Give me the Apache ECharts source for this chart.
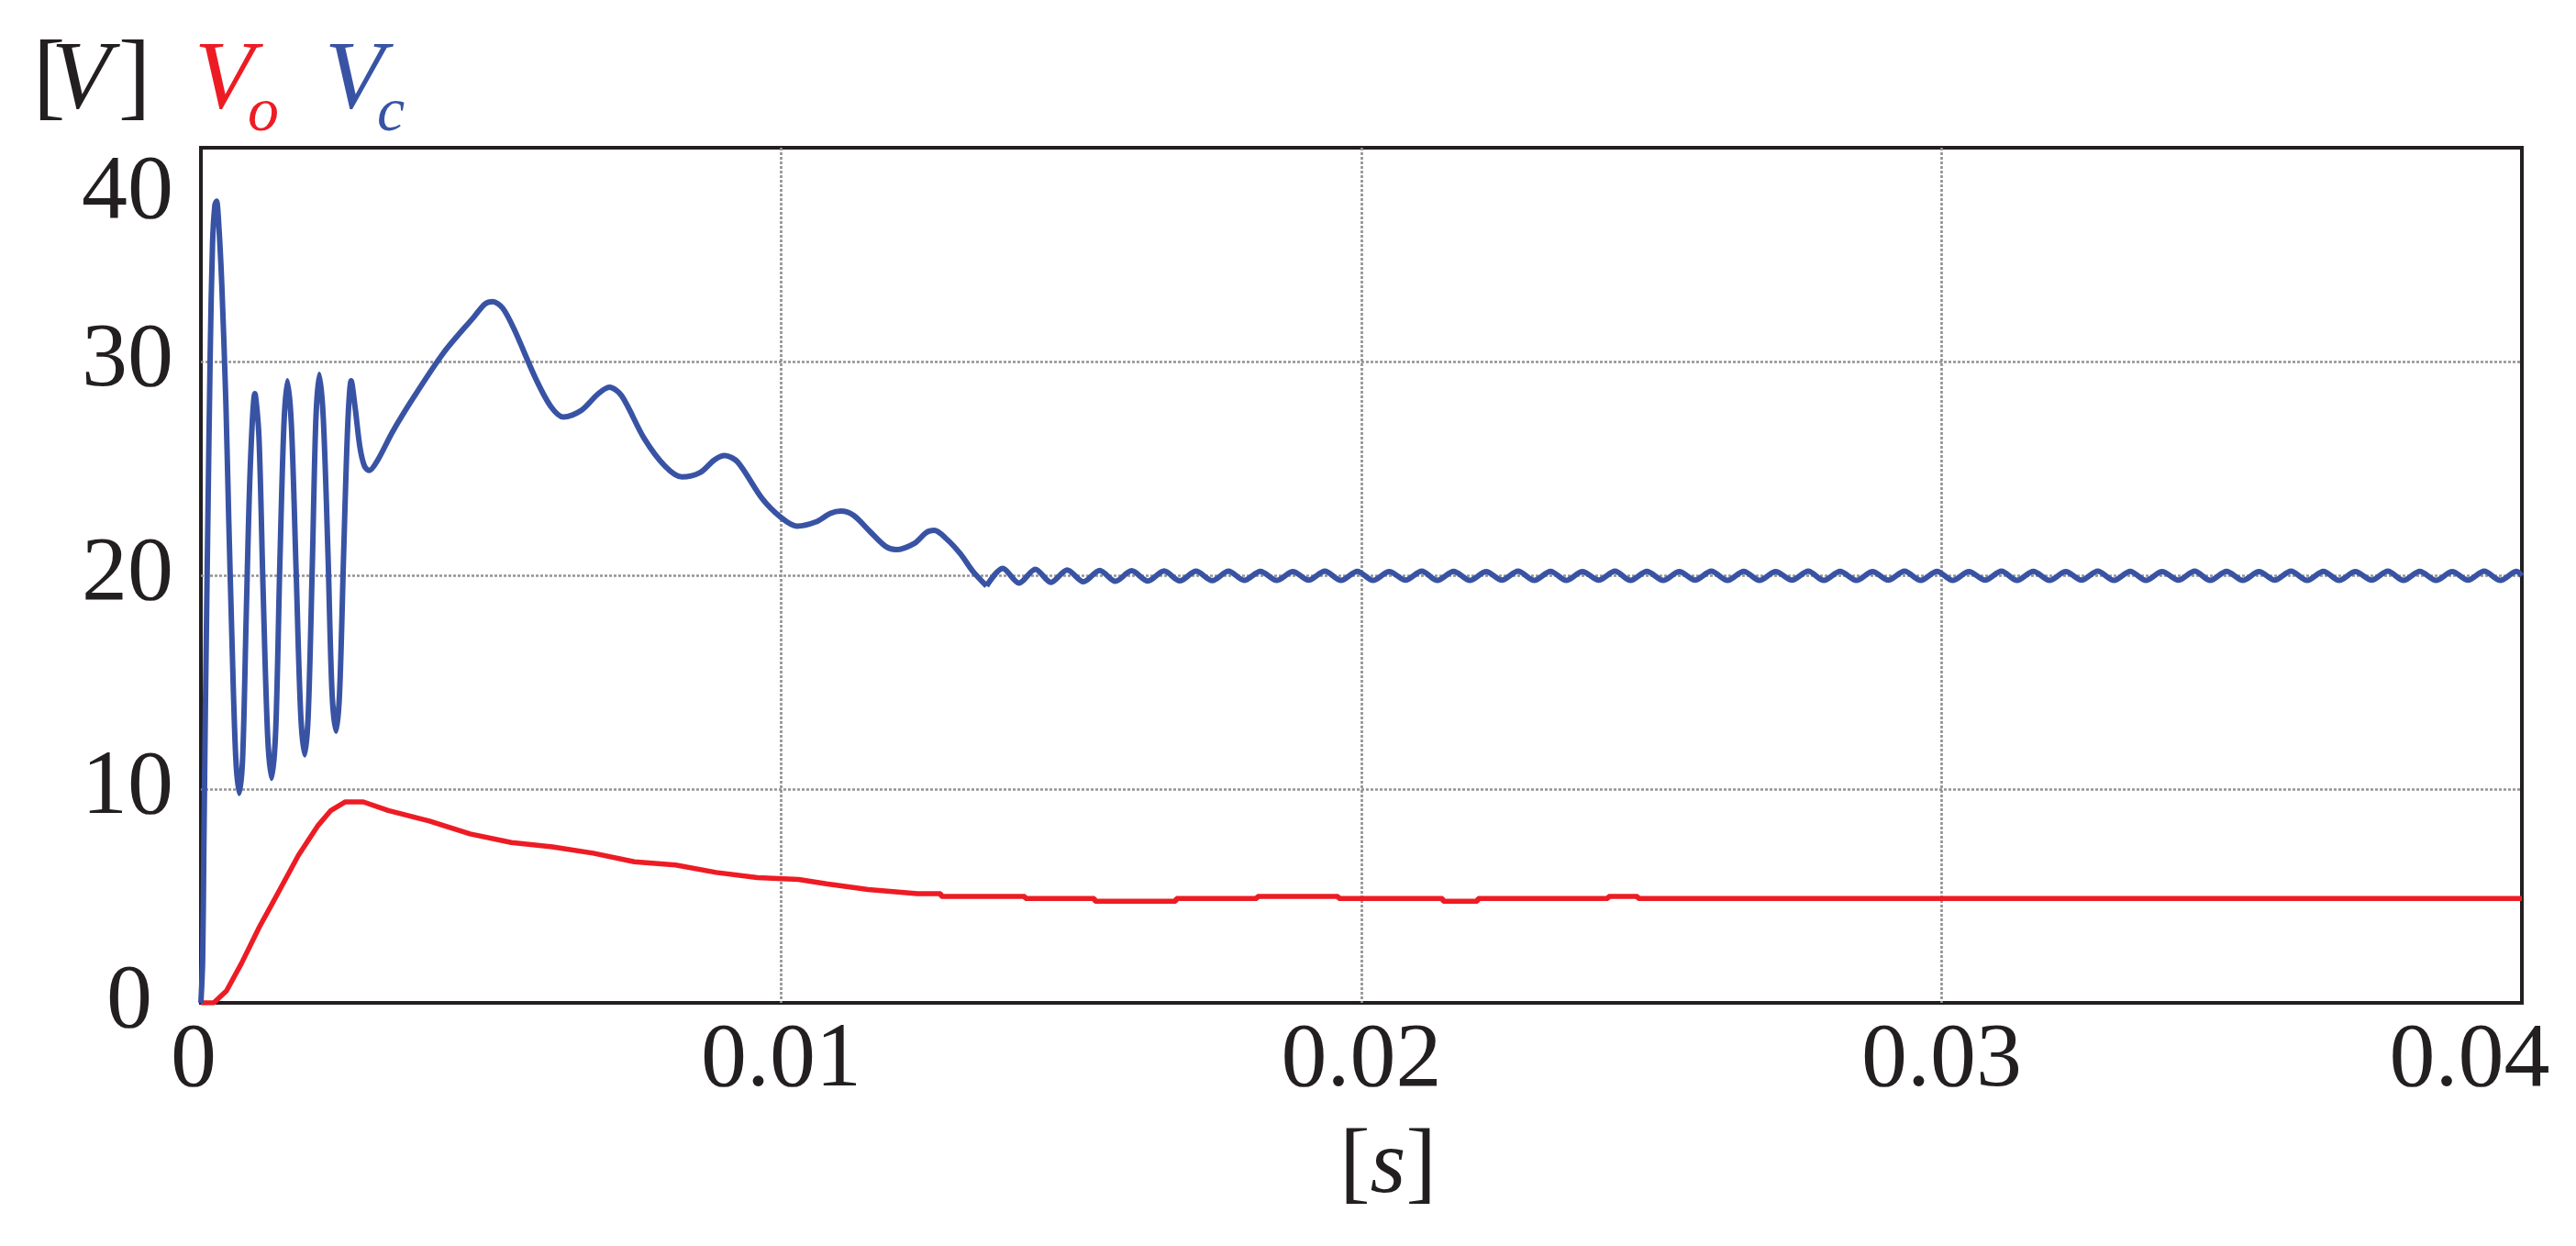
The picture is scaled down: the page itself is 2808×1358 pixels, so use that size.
<!DOCTYPE html>
<html>
<head>
<meta charset="utf-8">
<title>Vo / Vc</title>
<script src="https://cdn.jsdelivr.net/npm/echarts@6.0.0/dist/echarts.min.js"></script>
<style>
  html, body { margin: 0; padding: 0; background: #fff; }
  #chart { width: 2808px; height: 1358px; }
</style>
</head>
<body>
<div id="chart"></div>
<script>
// time in ms, voltage in V
const vcTransientT = [0, 0.03, 0.05, 0.08, 0.12, 0.16, 0.20, 0.24, 0.27, 0.31, 0.36, 0.43, 0.48, 0.54, 0.60, 0.66,
  0.72, 0.78, 0.85, 0.93, 1.00, 1.07, 1.15, 1.22, 1.29, 1.36, 1.43, 1.49, 1.56, 1.64, 1.72, 1.79, 1.85, 1.92, 1.98,
  2.04, 2.11, 2.19, 2.26, 2.33, 2.39, 2.46, 2.53, 2.59, 2.66, 2.74, 2.82, 2.90,
  3.05, 3.30, 3.66, 4.18, 4.71, 4.90, 5.03, 5.20, 5.40, 5.77, 6.03, 6.25, 6.55, 6.85, 7.04, 7.25, 7.64, 8.00, 8.29,
  8.60, 8.85, 9.03, 9.25, 9.67, 10.00, 10.27, 10.60, 10.85, 11.03, 11.25, 11.53, 11.80, 11.98, 12.30, 12.50, 12.64,
  12.85, 13.09, 13.30, 13.54];
const vcTransientV = [0, 2, 7, 14.4, 22.6, 30.3, 35.5, 37.3, 37.5, 36.3, 33.6, 28.1, 22.6, 16.5, 11.5, 9.8,
  11.5, 18.0, 25.0, 28.5, 26.5, 19.5, 12.5, 10.5, 12.8, 20.5, 27.0, 29.1, 27.0, 20.3, 13.5, 11.6, 13.5, 20.5, 27.2,
  29.4, 27.3, 21.0, 14.5, 12.7, 14.5, 21.0, 27.0, 29.1, 27.8, 26.0, 25.1, 24.9,
  25.4, 26.7, 28.3, 30.4, 32.1, 32.7, 32.8, 32.5, 31.5, 29.2, 27.9, 27.4, 27.7, 28.5, 28.8, 28.4, 26.4, 25.1, 24.6,
  24.8, 25.4, 25.6, 25.3, 23.6, 22.7, 22.3, 22.5, 22.9, 23.0, 22.8, 22.05, 21.35, 21.2, 21.5, 22.0, 22.1,
  21.7, 21.0, 20.2, 19.5];

// steady-state ripple: alternating peaks and troughs
const vcRippleT = [13.82, 14.10, 14.38, 14.65, 14.93, 15.21, 15.49, 15.76, 16.04, 16.32, 16.60, 16.87, 17.15, 17.43,
  17.71, 17.98, 18.26, 18.54, 18.82, 19.09, 19.37, 19.65, 19.93, 20.20, 20.48, 20.76, 21.04, 21.31, 21.59, 21.87,
  22.15, 22.42, 22.70, 22.98, 23.26, 23.53, 23.81, 24.09, 24.37, 24.64, 24.92, 25.20, 25.48, 25.75, 26.03, 26.31,
  26.59, 26.86, 27.14, 27.42, 27.70, 27.97, 28.25, 28.53, 28.81, 29.08, 29.36, 29.64, 29.92, 30.19, 30.47, 30.75,
  31.03, 31.30, 31.58, 31.86, 32.14, 32.41, 32.69, 32.97, 33.25, 33.52, 33.80, 34.08, 34.36, 34.63, 34.91, 35.19,
  35.47, 35.74, 36.02, 36.30, 36.58, 36.85, 37.13, 37.41, 37.69, 37.96, 38.24, 38.52, 38.80, 39.07, 39.35, 39.63,
  39.91, 40.00];
const vcRippleV = [20.32, 19.64, 20.28, 19.67, 20.25, 19.70, 20.23, 19.72, 20.21, 19.73, 20.20, 19.74, 20.19, 19.75,
  20.19, 19.76, 20.18, 19.76, 20.17, 19.77, 20.19, 19.76, 20.18, 19.76, 20.17, 19.77, 20.19, 19.76, 20.18, 19.76,
  20.17, 19.77, 20.19, 19.76, 20.18, 19.76, 20.17, 19.77, 20.19, 19.76, 20.18, 19.76, 20.17, 19.77, 20.19, 19.76,
  20.18, 19.76, 20.17, 19.77, 20.19, 19.76, 20.18, 19.76, 20.17, 19.77, 20.19, 19.76, 20.18, 19.76, 20.17, 19.77,
  20.19, 19.76, 20.18, 19.76, 20.17, 19.77, 20.19, 19.76, 20.18, 19.76, 20.17, 19.77, 20.19, 19.76, 20.18, 19.76,
  20.17, 19.77, 20.19, 19.76, 20.18, 19.76, 20.17, 19.77, 20.19, 19.76, 20.18, 19.76, 20.17, 19.77, 20.19, 19.76,
  20.18, 19.97];

const voT = [0, 0.22, 0.44, 0.70, 1.01, 1.22, 1.44, 1.68, 2.02, 2.24, 2.49, 2.80, 3.23, 3.94, 4.64, 5.35, 6.06, 6.76,
  7.47, 8.18, 8.88, 9.59, 10.30, 10.78, 11.50, 12.35, 12.75, 12.76, 14.20, 14.21, 15.40, 15.41, 16.80, 16.81, 18.20,
  18.21, 19.60, 19.61, 21.40, 21.41, 22.00, 22.01, 24.25, 24.26, 24.76, 24.77, 40.00];
const voV = [0, 0, 0.56, 1.85, 3.56, 4.6, 5.7, 6.9, 8.3, 9.0, 9.4, 9.4, 9.0, 8.5, 7.9, 7.5, 7.3, 7.0,
  6.6, 6.45, 6.1, 5.86, 5.77, 5.57, 5.3, 5.11, 5.11, 4.98, 4.98, 4.88, 4.88, 4.75, 4.75, 4.88, 4.88,
  4.98, 4.98, 4.88, 4.88, 4.75, 4.75, 4.88, 4.88, 4.98, 4.98, 4.88, 4.88];

const xTicks = [0, 0.01, 0.02, 0.03, 0.04];
const yTicks = [0, 10, 20, 30, 40];

const RED = '#ED1C24';
const BLUE = '#3953A4';
const INK = '#231F20';
const FONT = "'Liberation Serif', 'Times New Roman', serif";

const toPairs = (ts, vs) => ts.map((t, i) => [t / 1000, vs[i]]);
const vcTransient = toPairs(vcTransientT, vcTransientV);
// steady part starts where the transient ends so the trace is continuous
const vcRipple = [vcTransient[vcTransient.length - 1]].concat(toPairs(vcRippleT, vcRippleV));
const voData = toPairs(voT, voV);

const chart = echarts.init(document.getElementById('chart'));

const gridLine = { color: '#939393', width: 2.7, type: [3, 2] };
const labelBase = { fontFamily: FONT, fontSize: 100, color: INK };

chart.setOption({
  animation: false,
  backgroundColor: '#fff',
  grid: {
    left: 219, right: 59, top: 161, bottom: 265,
    show: true, borderColor: INK, borderWidth: 4,
    outerBoundsMode: 'none'
  },
  xAxis: {
    type: 'value',
    min: xTicks[0], max: xTicks[xTicks.length - 1], interval: 0.01,
    axisLine: { show: false },
    axisTick: { show: false },
    splitLine: { show: true, showMinLine: false, showMaxLine: false, lineStyle: gridLine },
    axisLabel: Object.assign({}, labelBase, {
      margin: 14,
      formatter: v => {
        if (v === 0) return '{z|0}';
        if (Math.abs(v - 0.04) < 1e-9) return '{e|0.04}';
        return String(+v.toFixed(2));
      },
      rich: {
        z: Object.assign({}, labelBase, { padding: [0, 16, 0, 0] }),
        e: Object.assign({}, labelBase, { padding: [0, 114, 0, 0] })
      }
    }),
    name: '[{s|s}]',
    nameLocation: 'middle',
    nameGap: 130,
    nameTextStyle: Object.assign({}, labelBase, {
      padding: [0, 0, 0, 58],
      rich: { s: { fontFamily: FONT, fontSize: 100, fontStyle: 'italic', color: INK } }
    })
  },
  yAxis: {
    type: 'value',
    min: yTicks[0], max: yTicks[yTicks.length - 1], interval: 10,
    axisLine: { show: false },
    axisTick: { show: false },
    splitLine: { show: true, showMinLine: false, showMaxLine: false, lineStyle: gridLine },
    axisLabel: Object.assign({}, labelBase, {
      margin: 30,
      formatter: v => v === 40 ? '{t|40}' : (v === 0 ? '{z|0}' : String(v)),
      rich: {
        t: Object.assign({}, labelBase, { padding: [100, 0, 0, 0] }),
        z: Object.assign({}, labelBase, { padding: [0, 23, 0, 0] })
      }
    })
  },
  series: [
    {
      name: 'Vo', type: 'line', data: voData, showSymbol: false,
      lineStyle: { color: RED, width: 5.5 }, z: 3
    },
    {
      name: 'Vc', type: 'line', data: vcTransient, showSymbol: false, smooth: 0.3,
      lineStyle: { color: BLUE, width: 6 }, z: 4
    },
    {
      name: 'Vc steady', type: 'line', data: vcRipple, showSymbol: false, smooth: 0.3,
      lineStyle: { color: BLUE, width: 6 }, z: 4
    }
  ],
  graphic: [
    { type: 'text', left: 36, top: 36, style: { text: '[', fontFamily: FONT, fontSize: 106, fill: INK } },
    { type: 'text', left: 56, top: 36, style: { text: 'V', fontFamily: FONT, fontSize: 106, fontStyle: 'italic', fill: INK } },
    { type: 'text', left: 129, top: 36, style: { text: ']', fontFamily: FONT, fontSize: 106, fill: INK } },
    { type: 'text', left: 212, top: 36, style: { text: 'V', fontFamily: FONT, fontSize: 106, fontStyle: 'italic', fill: RED } },
    { type: 'text', left: 270, top: 90, style: { text: 'o', fontFamily: FONT, fontSize: 68, fontStyle: 'italic', fill: RED } },
    { type: 'text', left: 354, top: 36, style: { text: 'V', fontFamily: FONT, fontSize: 106, fontStyle: 'italic', fill: BLUE } },
    { type: 'text', left: 411, top: 90, style: { text: 'c', fontFamily: FONT, fontSize: 68, fontStyle: 'italic', fill: BLUE } }
  ]
});
</script>
</body>
</html>
